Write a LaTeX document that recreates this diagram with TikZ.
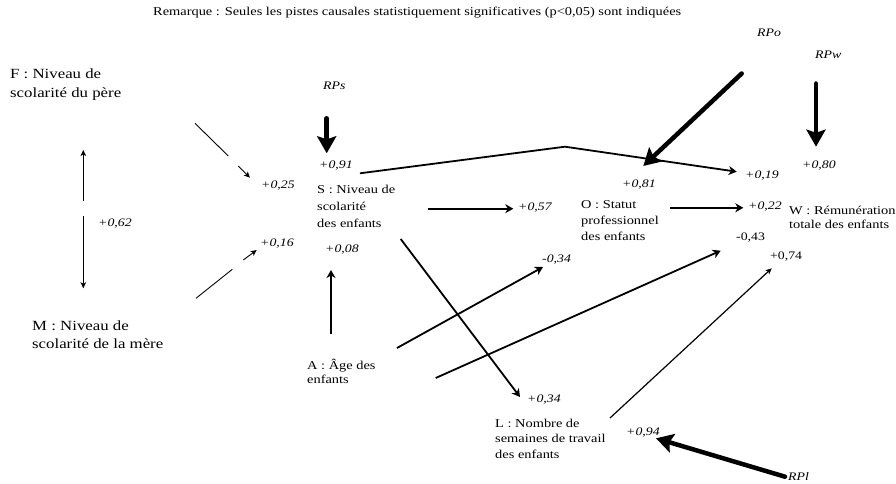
\documentclass[tikz,border=0pt]{standalone}
\usepackage{fontspec}
\setmainfont[FakeStretch=1.2]{Liberation Serif}
\usetikzlibrary{arrows.meta}

% Multi-line labels are placed by the baseline of their last line.
\tikzset{
  lbl/.style={anchor=base west, inner sep=0pt, align=left,
    font=\fontsize{12}{16}\selectfont},
  lblbig/.style={lbl, font=\fontsize{14}{18.5}\selectfont},
  coef/.style={anchor=base west, inner sep=0pt,
    font=\fontsize{11.5}{14}\selectfont\itshape},
  coefup/.style={anchor=base west, inner sep=0pt,
    font=\fontsize{11.5}{14}\selectfont},
  thinarrow/.style={line width=0.9pt, -{Stealth[length=6pt,width=5.5pt,inset=1.5pt]}},
  thinseg/.style={line width=0.9pt},
  medarrow/.style={line width=1.8pt, -{Stealth[length=8pt,width=9pt,inset=2.5pt]}},
  residual/.style={line width=4.5pt, line cap=round,
    -{Stealth[length=17pt,width=19pt,inset=3pt]}}
}

\begin{document}
\begin{tikzpicture}[x=1pt,y=-1pt]
\useasboundingbox (0,0) rectangle (896,484);

% note at the top
\node[lbl] (note) at (153,16) {Remarque : Seules les pistes causales statistiquement significatives (p<0,05) sont indiquées};

% variables
\node[lblbig] (F) at (10,97.5) {F : Niveau de\\scolarité du père};
\node[lblbig] (M) at (32,348.5) {M : Niveau de\\scolarité de la mère};
\node[lbl, font=\fontsize{12}{17}\selectfont] (S) at (317,227) {S : Niveau de\\scolarité\\des enfants};
\node[lbl] (O) at (581,240.3) {O : Statut\\professionnel\\des enfants};
\node[lbl, font=\fontsize{12}{14}\selectfont] (W) at (789,228) {W : Rémunération\\totale des enfants};
\node[lbl, font=\fontsize{12}{14.5}\selectfont] (A) at (307,383.5) {A : Âge des\\enfants};
\node[lbl, font=\fontsize{12}{15.5}\selectfont] (L) at (495,458) {L : Nombre de\\semaines de travail\\des enfants};

% residual terms
\node[coef] (RPs) at (323,89.5) {RPs};
\node[coef] (RPo) at (757,37) {RPo};
\node[coef] (RPw) at (815,58.5) {RPw};
\node[coef] (RPl) at (788,480) {RPl};

% path coefficients
\node[coef] (c25) at (261,188) {+0,25};
\node[coef] (c16) at (260,246) {+0,16};
\node[coef] (c62) at (98,226) {+0,62};
\node[coef] (c91) at (319,168) {+0,91};
\node[coef] (c08) at (325,252) {+0,08};
\node[coef] (c57) at (518,210) {+0,57};
\node[coef] (c34n) at (542,262) {-0,34};
\node[coef] (c81) at (622,187) {+0,81};
\node[coef] (c19) at (745,178) {+0,19};
\node[coef] (c80) at (802,168) {+0,80};
\node[coef] (c22) at (748,209) {+0,22};
\node[coefup] (c43) at (736,240) {-0,43};
\node[coefup] (c74) at (770,259) {+0,74};
\node[coef] (c34) at (527,402) {+0,34};
\node[coef] (c94) at (626,435) {+0,94};

% connector end points
\coordinate (f1) at (195,123.3);   \coordinate (f2) at (228.3,156);
\coordinate (f3) at (238.3,166);   \coordinate (f4) at (250,177.7);
\coordinate (m1) at (196,298.3);   \coordinate (m2) at (232.3,269.3);
\coordinate (m3) at (243.3,260);   \coordinate (m4) at (256.7,250);
\coordinate (fm1) at (83.3,200.7); \coordinate (fm2) at (83.3,150);
\coordinate (fm3) at (83.3,215.7); \coordinate (fm4) at (83.3,288.3);
\coordinate (rs1) at (326.7,118.3); \coordinate (rs2) at (326.7,153.3);
\coordinate (so1) at (427.7,208.7); \coordinate (so2) at (513.3,208.7);
\coordinate (sw1) at (360,173.3);  \coordinate (swk) at (565,146.7);
\coordinate (sw2) at (736.7,171.7);
\coordinate (sl1) at (400.7,239);  \coordinate (sl2) at (520,397);
\coordinate (as1) at (331,334);    \coordinate (as2) at (331,270);
\coordinate (ao1) at (397,348);    \coordinate (ao2) at (543,267);
\coordinate (aw1) at (435.7,378);  \coordinate (aw2) at (720.7,250.7);
\coordinate (ow1) at (670,207.8);  \coordinate (ow2) at (743.3,207.8);
\coordinate (lw1) at (610,418);    \coordinate (lw2) at (771.7,268.3);
\coordinate (ro1) at (741.7,73.5); \coordinate (ro2) at (643.3,166);
\coordinate (rw1) at (816,83.5);   \coordinate (rw2) at (816,146.7);
\coordinate (rl1) at (785,476.7);  \coordinate (rl2) at (656,438.3);

% F and M towards S
\draw[thinseg] (f1) -- (f2);
\draw[thinarrow] (f3) -- (f4);
\draw[thinseg] (m1) -- (m2);
\draw[thinarrow] (m3) -- (m4);
% correlation F <-> M
\draw[thinarrow] (fm1) -- (fm2);
\draw[thinarrow] (fm3) -- (fm4);

% effects of S, A, O, L
\draw[medarrow] (so1) -- (so2);
\draw[medarrow] (sw1) -- (swk) -- (sw2);
\draw[medarrow] (sl1) -- (sl2);
\draw[medarrow] (as1) -- (as2);
\draw[medarrow] (ao1) -- (ao2);
\draw[medarrow] (aw1) -- (aw2);
\draw[medarrow] (ow1) -- (ow2);
\draw[thinarrow, line width=1.2pt] (lw1) -- (lw2);

% residual paths
\draw[residual] (rs1) -- (rs2);
\draw[residual] (ro1) -- (ro2);
\draw[residual] (rw1) -- (rw2);
\draw[residual] (rl1) -- (rl2);
\end{tikzpicture}
\end{document}
